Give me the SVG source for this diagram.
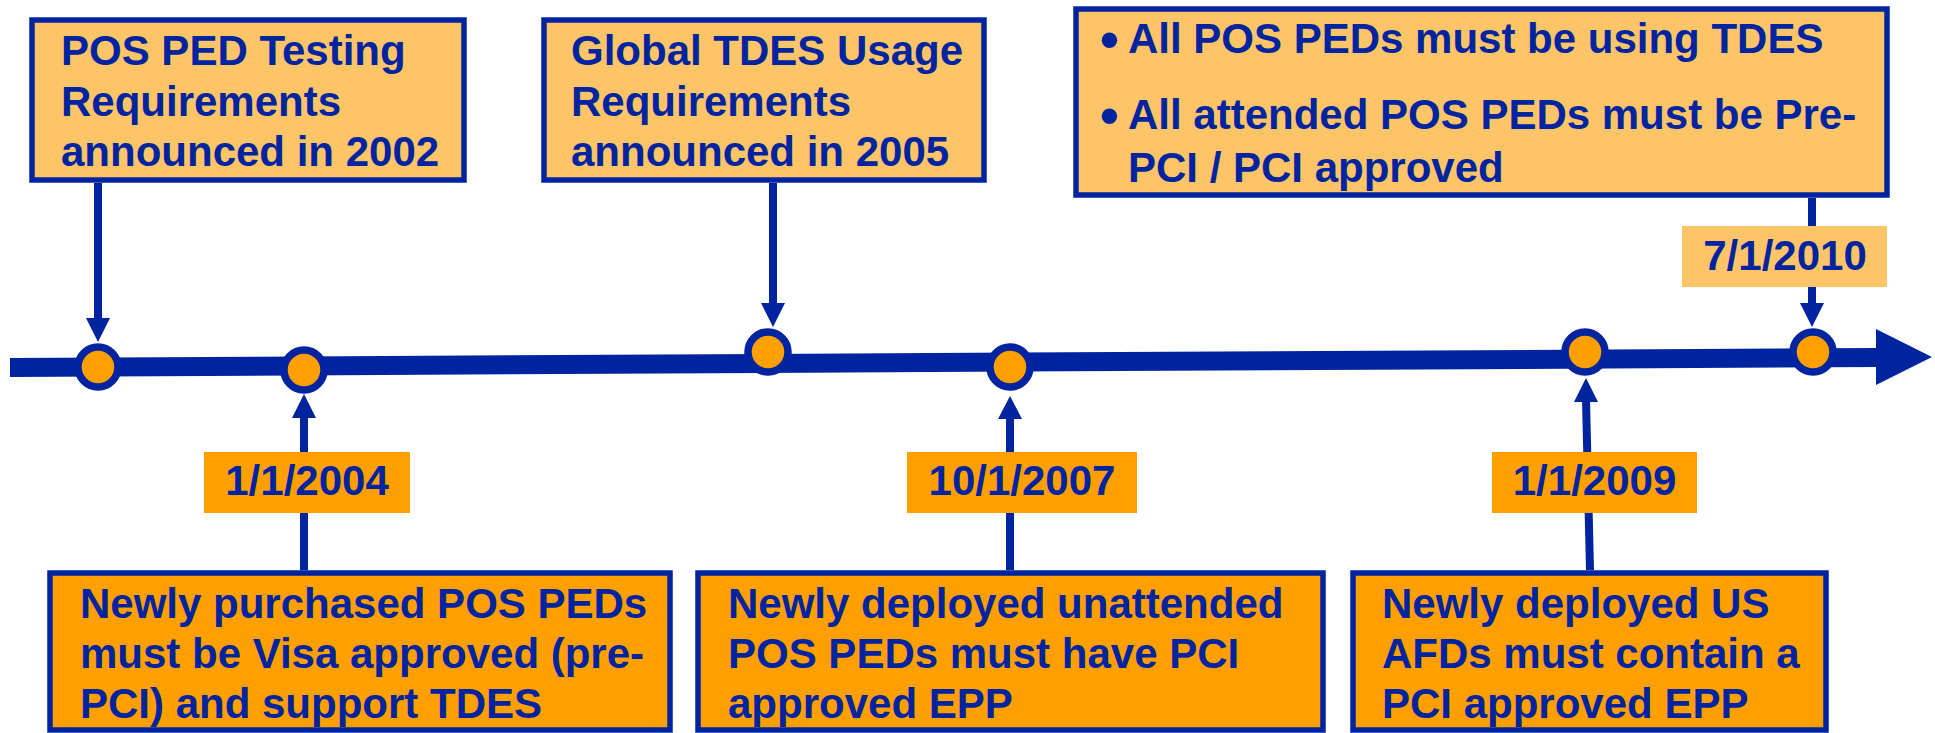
<svg xmlns="http://www.w3.org/2000/svg" width="1935" height="733" viewBox="0 0 1935 733">
<defs>
<style>
.box{stroke:#0024A0;stroke-width:5.5}
.lt{fill:#FDC567}
.dk{fill:#FF9F00}
.t{font-family:"Liberation Sans",Arial,sans-serif;font-weight:bold;font-size:42px;fill:#0024A0}
.b{font-size:54px}
.c{text-anchor:middle}
.ln{stroke:#0024A0;stroke-width:8;fill:none}
.dot{fill:#FF9F00;stroke:#0024A0;stroke-width:7.5}
.head{fill:#0024A0}
</style>
</defs>
<rect width="1935" height="733" fill="#FFFFFF"/>
<g id="connectors">
<polygon class="head" points="10,358 1876,348 1876,367 10,377"/>
<polygon class="head" points="1876,329 1932,357 1876,385"/>
<line class="ln" x1="98" y1="183" x2="98" y2="320"/>
<polygon class="head" points="86,318 110,318 98,342"/>
<line class="ln" x1="773" y1="183" x2="773" y2="305"/>
<polygon class="head" points="761,303 785,303 773,327"/>
<line class="ln" x1="1812" y1="198" x2="1812" y2="305"/>
<polygon class="head" points="1800,303 1824,303 1812,327"/>
<line class="ln" x1="304" y1="570" x2="304" y2="416"/>
<polygon class="head" points="292,418 316,418 304,394"/>
<line class="ln" x1="1010" y1="570" x2="1010" y2="417"/>
<polygon class="head" points="998,419 1022,419 1010,396"/>
<line class="ln" x1="1590" y1="570" x2="1586" y2="400"/>
<polygon class="head" points="1574,402 1598,402 1586,378"/>
</g>
<g id="markers">
<circle class="dot" cx="98" cy="367" r="20"/>
<circle class="dot" cx="304" cy="370" r="20"/>
<circle class="dot" cx="768" cy="352" r="20"/>
<circle class="dot" cx="1010" cy="367" r="20"/>
<circle class="dot" cx="1585" cy="352" r="20"/>
<circle class="dot" cx="1813" cy="352" r="20"/>
</g>
<g id="node-2002">
<rect class="box lt" x="32" y="20" width="432" height="160"/>
<text class="t" x="61" y="65">POS PED Testing</text>
<text class="t" x="61" y="116">Requirements</text>
<text class="t" x="61" y="166">announced in 2002</text>
</g>
<g id="node-2005">
<rect class="box lt" x="544" y="20" width="440" height="160"/>
<text class="t" x="571" y="65">Global TDES Usage</text>
<text class="t" x="571" y="116">Requirements</text>
<text class="t" x="571" y="166">announced in 2005</text>
</g>
<g id="node-2010">
<rect class="box lt" x="1076" y="9" width="811" height="186"/>
<text class="t b" x="1100" y="58">•</text>
<text class="t" x="1128" y="53">All POS PEDs must be using TDES</text>
<text class="t b" x="1100" y="134">•</text>
<text class="t" x="1128" y="129">All attended POS PEDs must be Pre-</text>
<text class="t" x="1128" y="182">PCI / PCI approved</text>
</g>
<g id="label-2010">
<rect class="lt" x="1682" y="226" width="205" height="61"/>
<text class="t c" x="1785" y="270">7/1/2010</text>
</g>
<g id="label-2004">
<rect class="dk" x="204" y="452" width="206" height="61"/>
<text class="t c" x="307" y="495">1/1/2004</text>
</g>
<g id="label-2007">
<rect class="dk" x="907" y="452" width="230" height="61"/>
<text class="t c" x="1022" y="495">10/1/2007</text>
</g>
<g id="label-2009">
<rect class="dk" x="1492" y="452" width="205" height="61"/>
<text class="t c" x="1594.5" y="495">1/1/2009</text>
</g>
<g id="node-2004">
<rect class="box dk" x="50" y="573" width="620" height="157"/>
<text class="t" x="80" y="618">Newly purchased POS PEDs</text>
<text class="t" x="80" y="668">must be Visa approved (pre-</text>
<text class="t" x="80" y="718">PCI) and support TDES</text>
</g>
<g id="node-2007">
<rect class="box dk" x="698" y="573" width="625" height="157"/>
<text class="t" x="728" y="618">Newly deployed unattended</text>
<text class="t" x="728" y="668">POS PEDs must have PCI</text>
<text class="t" x="728" y="718">approved EPP</text>
</g>
<g id="node-2009">
<rect class="box dk" x="1353" y="573" width="473" height="157"/>
<text class="t" x="1382" y="618">Newly deployed US</text>
<text class="t" x="1382" y="668">AFDs must contain a</text>
<text class="t" x="1382" y="718">PCI approved EPP</text>
</g>
</svg>
